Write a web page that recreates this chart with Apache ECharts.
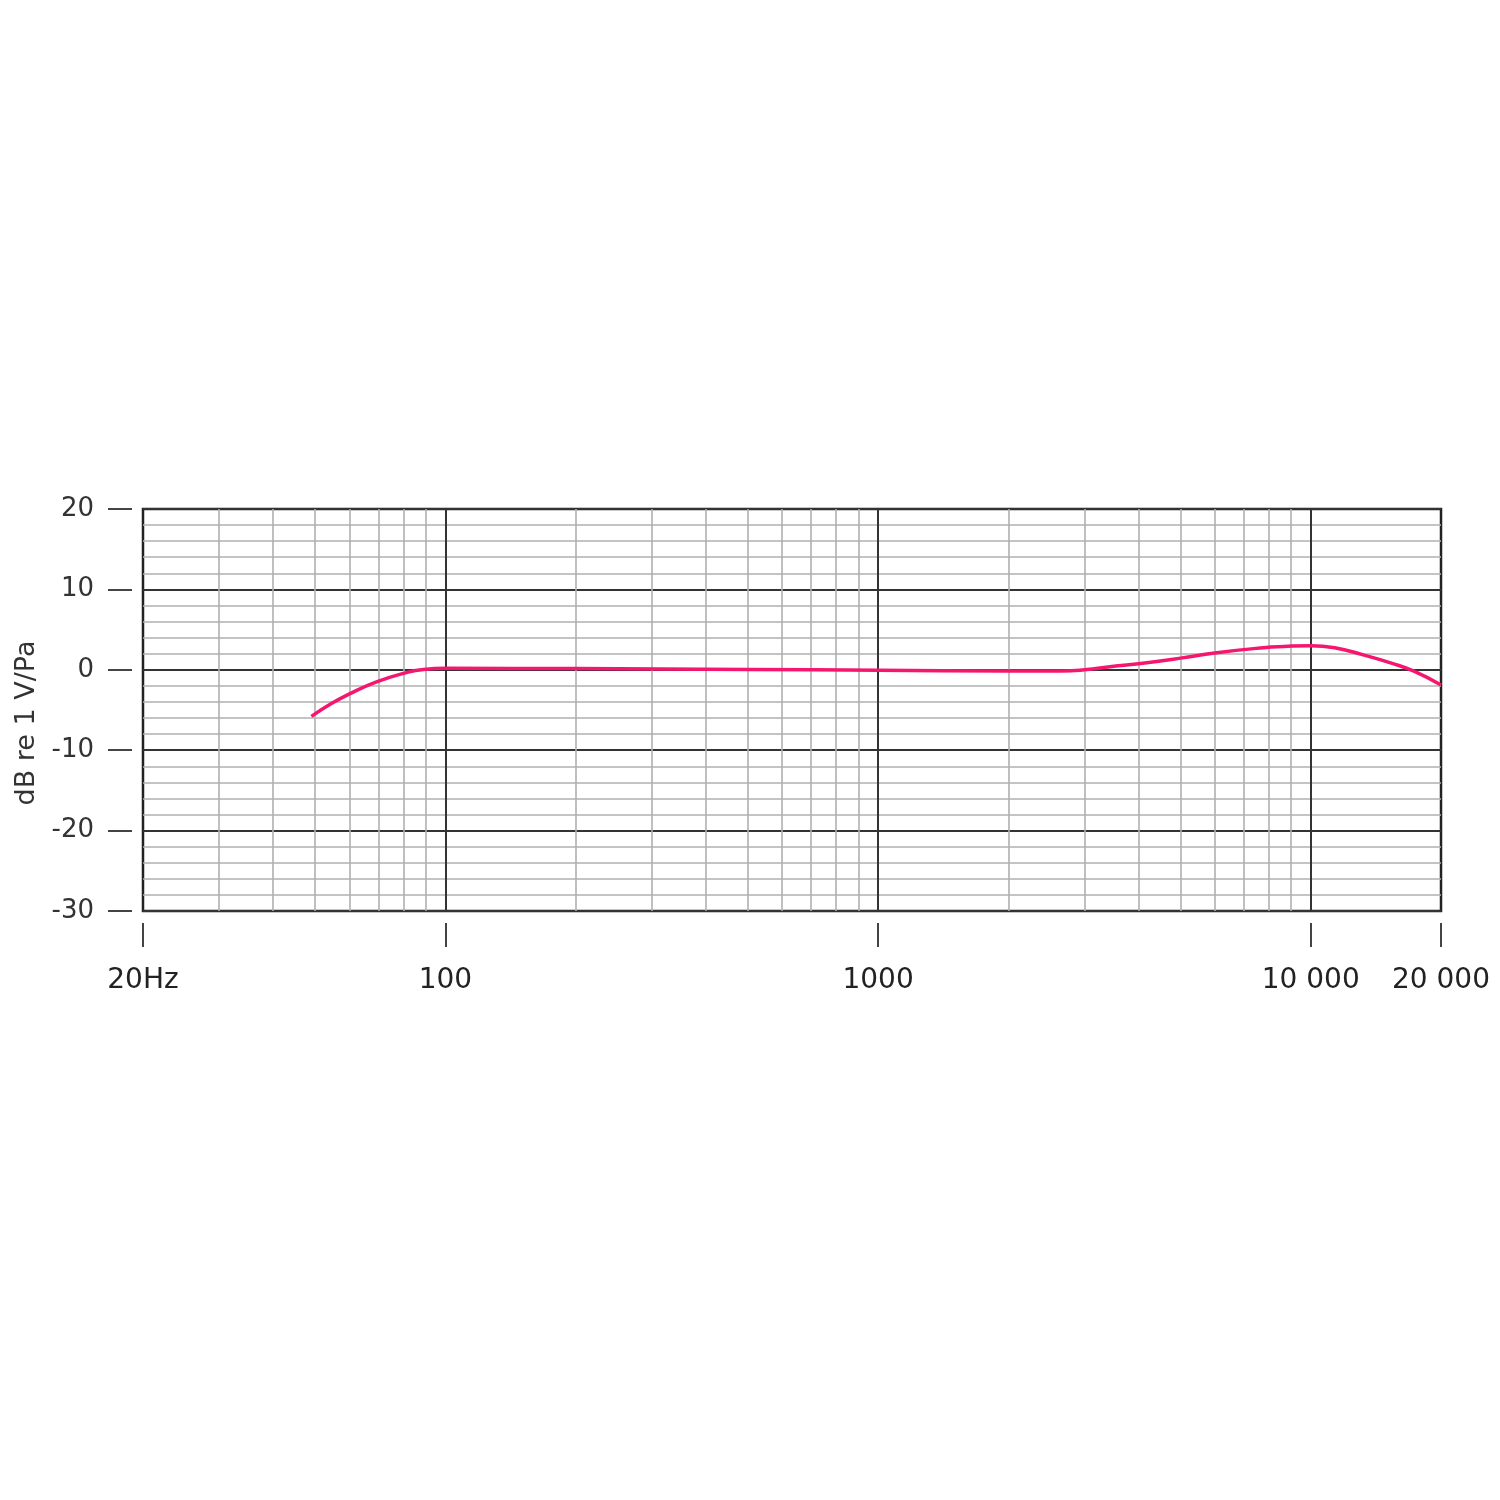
<!DOCTYPE html>
<html>
<head>
<meta charset="utf-8">
<title>Frequency response</title>
<script src="https://cdn.jsdelivr.net/npm/echarts@6/dist/echarts.min.js"></script>
<style>
  html, body { margin: 0; padding: 0; background: #fff; }
  #main { width: 1500px; height: 1500px; }
</style>
</head>
<body>
<div id="main"></div>
<script type="text/javascript">
    // response curve
    var freqs = [49, 54.5, 60, 69.3, 80, 89, 100, 200, 500, 1000, 2000, 2650, 3000, 3470, 4000, 5000, 6000, 7770, 8660, 10000, 11360, 13230, 15420, 17370, 20000];
    var gainDb = [-5.8, -4.2, -3.0, -1.5, -0.45, 0.05, 0.18, 0.15, 0.05, -0.05, -0.15, -0.15, 0.0, 0.4, 0.75, 1.45, 2.1, 2.75, 2.9, 3.0, 2.75, 1.85, 0.8, -0.2, -1.9];

    // x axis ticks / labels
    var xTickValues = [20, 100, 1000, 10000, 20000];
    var xTickLabels = ['20Hz', '100', '1000', '10 000', '20 000'];

    // grid lines
    var majorFreqs = [100, 1000, 10000];
    var minorFreqs = [30, 40, 50, 60, 70, 80, 90, 200, 300, 400, 500, 600, 700, 800, 900,
                      2000, 3000, 4000, 5000, 6000, 7000, 8000, 9000];

    var myChart = echarts.init(document.getElementById('main'));

    function vLines(list) {
        return list.map(function (f) { return { xAxis: f }; });
    }

    var option = {
        backgroundColor: '#fff',
        animation: false,
        grid: {
            left: 143,
            top: 509,
            width: 1298,
            height: 402,
            show: true,
            borderColor: '#222',
            borderWidth: 2.5,
            backgroundColor: 'transparent'
        },
        xAxis: [{
            type: 'log',
            logBase: 10,
            min: 20,
            max: 20000,
            offset: 12,
            axisLine: { show: false },
            splitLine: { show: false },
            axisTick: { show: false },
            axisLabel: {
                customValues: xTickValues,
                margin: 44,
                fontSize: 28,
                fontFamily: 'DejaVu Sans',
                color: '#222',
                formatter: function (v) {
                    var i = xTickValues.indexOf(Math.round(v));
                    return i >= 0 ? xTickLabels[i] : '';
                }
            }
        }, {
            // same decades on a linear log10 axis, only for the tick marks
            type: 'value',
            position: 'bottom',
            min: Math.log10(20),
            max: Math.log10(20000),
            offset: 12,
            axisLine: { show: false },
            splitLine: { show: false },
            axisLabel: { show: false },
            axisTick: {
                show: true,
                length: 24,
                customValues: xTickValues.map(function (v) { return Math.log10(v); }),
                lineStyle: { color: '#444', width: 2 }
            }
        }],
        yAxis: {
            type: 'value',
            min: -30,
            max: 20,
            interval: 10,
            offset: 11,
            name: 'dB re 1 V/Pa',
            nameLocation: 'middle',
            nameGap: 92,
            nameTextStyle: { fontSize: 27, fontFamily: 'DejaVu Sans', color: '#333', padding: [0, 26, 0, 0] },
            axisLine: { show: false },
            axisTick: { show: true, length: 24, lineStyle: { color: '#444', width: 2 } },
            axisLabel: { margin: 38, fontSize: 26, fontFamily: 'DejaVu Sans', color: '#333' },
            splitLine: { show: true, lineStyle: { color: '#333', width: 2 } },
            minorTick: { show: false, splitNumber: 5 },
            minorSplitLine: { show: true, lineStyle: { color: '#b0b0b0', width: 1.6 } }
        },
        series: [
            {
                // vertical grid lines only
                name: 'grid',
                type: 'line',
                data: [],
                silent: true,
                z: 1,
                markLine: {
                    silent: true,
                    symbol: ['none', 'none'],
                    label: { show: false },
                    animation: false,
                    data: vLines(minorFreqs),
                    lineStyle: { type: 'solid', color: '#b0b0b0', width: 1.6 }
                }
            },
            {
                name: 'grid-major',
                type: 'line',
                data: [],
                silent: true,
                z: 2,
                markLine: {
                    silent: true,
                    symbol: ['none', 'none'],
                    label: { show: false },
                    animation: false,
                    data: vLines(majorFreqs),
                    lineStyle: { type: 'solid', color: '#333', width: 2 }
                }
            },
            {
                name: 'response',
                type: 'line',
                smooth: 0.5,
                showSymbol: false,
                z: 5,
                lineStyle: { color: '#f5176f', width: 3.5 },
                data: freqs.map(function (f, i) { return [f, gainDb[i]]; })
            }
        ]
    };

    myChart.setOption(option);
</script>
</body>
</html>
